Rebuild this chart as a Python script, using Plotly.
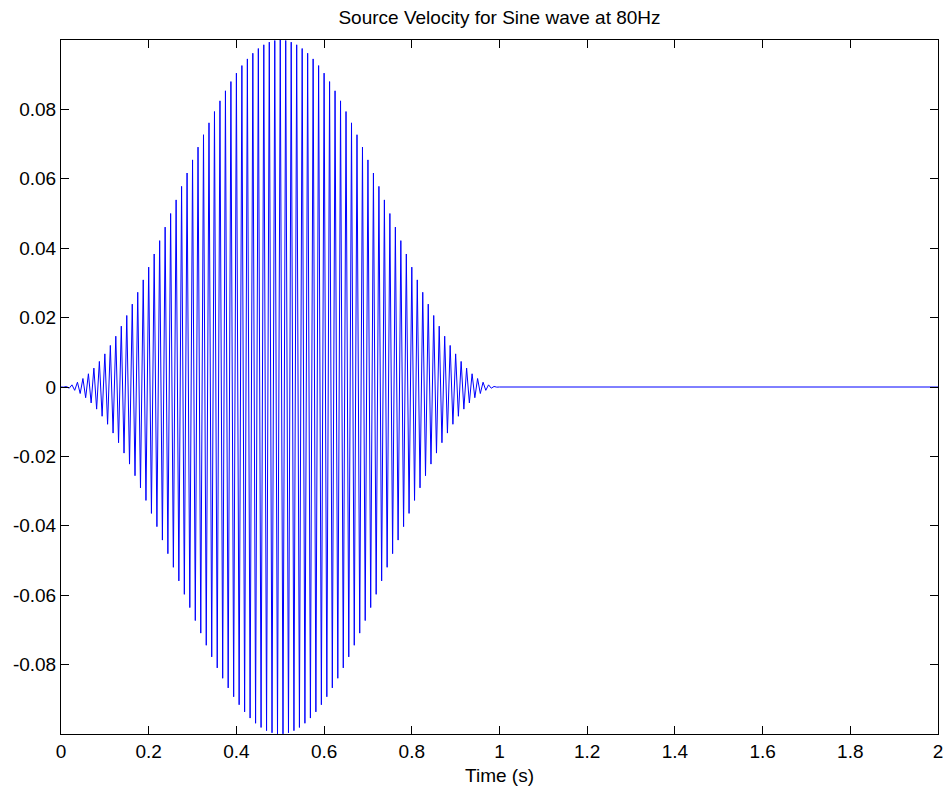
import plotly.graph_objects as go

# Time of each successive extremum of the 80 Hz carrier (half-period spacing), then the flat tail to 2 s
time_s = [
    0.0, 0.00625, 0.0125, 0.01875, 0.025, 0.03125, 0.0375, 0.04375,
    0.05, 0.05625, 0.0625, 0.06875, 0.075, 0.08125, 0.0875, 0.09375,
    0.1, 0.10625, 0.1125, 0.11875, 0.125, 0.13125, 0.1375, 0.14375,
    0.15, 0.15625, 0.1625, 0.16875, 0.175, 0.18125, 0.1875, 0.19375,
    0.2, 0.20625, 0.2125, 0.21875, 0.225, 0.23125, 0.2375, 0.24375,
    0.25, 0.25625, 0.2625, 0.26875, 0.275, 0.28125, 0.2875, 0.29375,
    0.3, 0.30625, 0.3125, 0.31875, 0.325, 0.33125, 0.3375, 0.34375,
    0.35, 0.35625, 0.3625, 0.36875, 0.375, 0.38125, 0.3875, 0.39375,
    0.4, 0.40625, 0.4125, 0.41875, 0.425, 0.43125, 0.4375, 0.44375,
    0.45, 0.45625, 0.4625, 0.46875, 0.475, 0.48125, 0.4875, 0.49375,
    0.5, 0.50625, 0.5125, 0.51875, 0.525, 0.53125, 0.5375, 0.54375,
    0.55, 0.55625, 0.5625, 0.56875, 0.575, 0.58125, 0.5875, 0.59375,
    0.6, 0.60625, 0.6125, 0.61875, 0.625, 0.63125, 0.6375, 0.64375,
    0.65, 0.65625, 0.6625, 0.66875, 0.675, 0.68125, 0.6875, 0.69375,
    0.7, 0.70625, 0.7125, 0.71875, 0.725, 0.73125, 0.7375, 0.74375,
    0.75, 0.75625, 0.7625, 0.76875, 0.775, 0.78125, 0.7875, 0.79375,
    0.8, 0.80625, 0.8125, 0.81875, 0.825, 0.83125, 0.8375, 0.84375,
    0.85, 0.85625, 0.8625, 0.86875, 0.875, 0.88125, 0.8875, 0.89375,
    0.9, 0.90625, 0.9125, 0.91875, 0.925, 0.93125, 0.9375, 0.94375,
    0.95, 0.95625, 0.9625, 0.96875, 0.975, 0.98125, 0.9875, 0.99375,
    1.0, 2.0,
]

# Velocity at each extremum
velocity = [
    0.0, -0.00004, 0.00015, -0.00035, 0.00062, -0.00096, 0.00138, -0.00188,
    0.00245, -0.00309, 0.00381, -0.00459, 0.00545, -0.00638, 0.00737, -0.00843,
    0.00955, -0.01074, 0.01198, -0.01328, 0.01464, -0.01606, 0.01753, -0.01905,
    0.02061, -0.02222, 0.02388, -0.02557, 0.0273, -0.02907, 0.03087, -0.03269,
    0.03455, -0.03643, 0.03833, -0.04025, 0.04218, -0.04412, 0.04608, -0.04804,
    0.05, -0.05196, 0.05392, -0.05588, 0.05782, -0.05975, 0.06167, -0.06357,
    0.06545, -0.06731, 0.06913, -0.07093, 0.0727, -0.07443, 0.07613, -0.07778,
    0.07939, -0.08095, 0.08247, -0.08394, 0.08536, -0.08672, 0.08802, -0.08927,
    0.09045, -0.09157, 0.09263, -0.09363, 0.09455, -0.09541, 0.09619, -0.09691,
    0.09755, -0.09812, 0.09862, -0.09904, 0.09938, -0.09965, 0.09985, -0.09996,
    0.1, -0.09996, 0.09985, -0.09965, 0.09938, -0.09904, 0.09862, -0.09812,
    0.09755, -0.09691, 0.09619, -0.09541, 0.09455, -0.09363, 0.09263, -0.09157,
    0.09045, -0.08927, 0.08802, -0.08672, 0.08536, -0.08394, 0.08247, -0.08095,
    0.07939, -0.07778, 0.07613, -0.07443, 0.0727, -0.07093, 0.06913, -0.06731,
    0.06545, -0.06357, 0.06167, -0.05975, 0.05782, -0.05588, 0.05392, -0.05196,
    0.05, -0.04804, 0.04608, -0.04412, 0.04218, -0.04025, 0.03833, -0.03643,
    0.03455, -0.03269, 0.03087, -0.02907, 0.0273, -0.02557, 0.02388, -0.02222,
    0.02061, -0.01905, 0.01753, -0.01606, 0.01464, -0.01328, 0.01198, -0.01074,
    0.00955, -0.00843, 0.00737, -0.00638, 0.00545, -0.00459, 0.00381, -0.00309,
    0.00245, -0.00188, 0.00138, -0.00096, 0.00062, -0.00035, 0.00015, -0.00004,
    0.0, 0.0,
]

x_tick_vals = [0, 0.2, 0.4, 0.6, 0.8, 1.0, 1.2, 1.4, 1.6, 1.8, 2.0]
x_tick_text = ["0", "0.2", "0.4", "0.6", "0.8", "1", "1.2", "1.4", "1.6", "1.8", "2"]
y_tick_vals = [-0.08, -0.06, -0.04, -0.02, 0, 0.02, 0.04, 0.06, 0.08]
y_tick_text = ["-0.08", "-0.06", "-0.04", "-0.02", "0", "0.02", "0.04", "0.06", "0.08"]

FONT = "Arial, Liberation Sans, Helvetica, sans-serif"
FS = 19

fig = go.Figure()
fig.add_trace(go.Scatter(
    x=time_s, y=velocity, mode="lines",
    line=dict(color="#0000ff", width=1),
    showlegend=False, hoverinfo="x+y",
))

axis_common = dict(
    showline=True, linecolor="black", linewidth=1, mirror="allticks",
    ticks="inside", ticklen=8, tickcolor="black", tickwidth=1,
    showgrid=False, zeroline=False, automargin=False,
    tickfont=dict(family=FONT, size=FS, color="black"),
)

fig.update_layout(
    width=947, height=787,
    margin=dict(l=61, r=9, t=40, b=53),
    paper_bgcolor="white", plot_bgcolor="white",
    title=dict(text="Source Velocity for Sine wave at 80Hz",
               font=dict(family=FONT, size=FS, color="black"),
               x=0.5, xanchor="center", xref="paper",
               y=1 - 17 / 787, yref="container", yanchor="middle"),
    xaxis=dict(range=[0, 2], tickvals=x_tick_vals, ticktext=x_tick_text,
               title=dict(text="Time (s)", font=dict(family=FONT, size=FS, color="black"), standoff=7),
               **axis_common),
    yaxis=dict(range=[-0.1, 0.1], tickvals=y_tick_vals, ticktext=y_tick_text,
               **axis_common),
)

fig.write_html("out.html", config={"displayModeBar": False},
               post_script="document.body.style.margin='0';document.body.style.padding='0';")
